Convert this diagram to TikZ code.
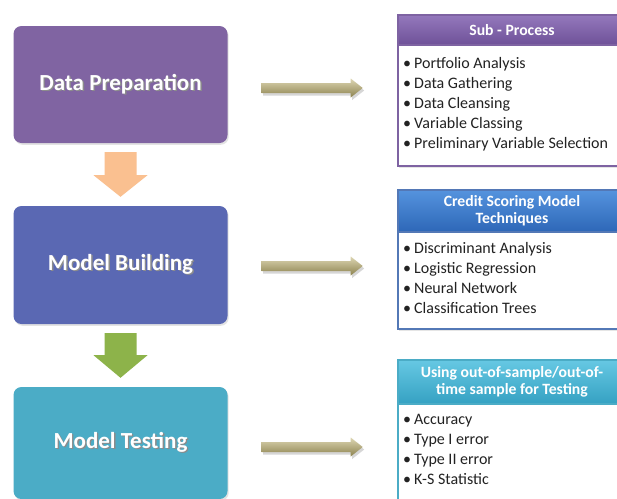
\documentclass[tikz,border=0pt]{standalone}
\usepackage{fontspec}
\setmainfont{Carlito}
\usetikzlibrary{calc,shadows}

% stage colours
\definecolor{prepC}{HTML}{8064A2}
\definecolor{buildC}{HTML}{5A68B3}
\definecolor{testC}{HTML}{4BACC6}
\definecolor{orangeC}{HTML}{FAC090}
\definecolor{greenC}{HTML}{8DB34A}
% side panel colours
\definecolor{subTop}{HTML}{9478BC}
\definecolor{subBot}{HTML}{6E5198}
\definecolor{subLine}{HTML}{7E63A2}
\definecolor{csmTop}{HTML}{5593DE}
\definecolor{csmBot}{HTML}{2D67B7}
\definecolor{csmLine}{HTML}{5378B6}
\definecolor{tstTop}{HTML}{66C8E3}
\definecolor{tstBot}{HTML}{35A1C2}
\definecolor{tstLine}{HTML}{4BACC6}
% flat arrow colours
\definecolor{khakiLight}{HTML}{DDD6B3}
\definecolor{khakiMid}{HTML}{C2B783}
\definecolor{khakiDark}{HTML}{8C824E}
\definecolor{listText}{HTML}{222222}

% white title with a soft dark shadow
\newcommand\shtext[1]{\rlap{\hspace{1.4pt}\raisebox{-1.4pt}{\color{black!45}#1}}#1}
% one bulleted line
\newcommand\bul[1]{\strut\textbullet\hspace{3pt}#1}

\tikzset{
  stage/.style={rounded corners=8pt, minimum width=214pt, inner sep=0pt,
    text=white, font=\fontsize{23}{27}\selectfont\bfseries,
    drop shadow={shadow xshift=1.2pt, shadow yshift=-1.8pt, opacity=0.22}},
  panel/.style={minimum width=228pt, inner sep=0pt, line width=1.4pt, fill=white,
    drop shadow={shadow xshift=1.2pt, shadow yshift=-1.8pt, opacity=0.2}},
  header/.style={minimum width=228pt, inner sep=0pt, line width=1.4pt,
    text=white, align=center, font=\fontsize{15.7}{17}\selectfont\bfseries},
  itemlist/.style={anchor=north west, inner sep=0pt, align=left,
    text=listText, font=\fontsize{16}{20}\selectfont},
  flatshadow/.style={fill=black, opacity=0.16},
  flatbody/.style={top color=khakiLight, middle color=khakiMid, bottom color=khakiDark},
}

% horizontal khaki arrow starting at a named coordinate
\newcommand\flatarrow[1]{%
  \fill[flatshadow] ($(#1)+(1.5,2.5)$) ++(0,-5) -- ++(89,0) -- ++(0,-4.5)
    -- ++(12,9.5) -- ++(-12,9.5) -- ++(0,-4.5) -- ++(-89,0) -- cycle;
  \shade[flatbody] (#1) ++(0,-5) -- ++(89,0) -- ++(0,-4.5)
    -- ++(12,9.5) -- ++(-12,9.5) -- ++(0,-4.5) -- ++(-89,0) -- cycle;
}

\begin{document}
\begin{tikzpicture}[x=1pt, y=-1pt]
  \clip (0,0) rectangle (617,498);
  \fill[white] (0,0) rectangle (617,498);

  % process stages
  \node[stage, fill=prepC, minimum height=117pt] (prep) at (120.5,84.5) {\shtext{Data Preparation}};
  \node[stage, fill=buildC, minimum height=118pt] (build) at (120.5,265) {\shtext{Model Building}};
  \node[stage, fill=testC, minimum height=112pt] (test) at (120.5,443) {\shtext{Model Testing}};

  % downward block arrows between stages
  \fill[orangeC] ($(prep.south)+(-16,9)$) -- ($(prep.south)+(16,9)$) -- ($(prep.south)+(16,32)$)
    -- ($(prep.south)+(27,32)$) -- ($(build.north)+(0,-9)$) -- ($(prep.south)+(-27,32)$)
    -- ($(prep.south)+(-16,32)$) -- cycle;
  \fill[greenC] ($(build.south)+(-16,9)$) -- ($(build.south)+(16,9)$) -- ($(build.south)+(16,31)$)
    -- ($(build.south)+(27,31)$) -- ($(test.north)+(0,-9)$) -- ($(build.south)+(-27,31)$)
    -- ($(build.south)+(-16,31)$) -- cycle;

  % side panels: frame first, coloured header on top
  \node[panel, draw=subLine, minimum height=151pt] (subB) at (512,90.5) {};
  \node[header, draw=subLine, top color=subTop, bottom color=subBot, minimum height=30pt]
    (subH) at (512,30) {Sub - Process};
  \node[itemlist] (subL) at (403,54) {\bul{Portfolio Analysis}\\ \bul{Data Gathering}\\
    \bul{Data Cleansing}\\ \bul{Variable Classing}\\ \bul{Preliminary Variable Selection}};

  \node[panel, draw=csmLine, minimum height=139pt] (csmB) at (512,259.5) {};
  \node[header, draw=csmLine, top color=csmTop, bottom color=csmBot, minimum height=42pt]
    (csmH) at (512,211) {Credit Scoring Model\\Techniques};
  \node[itemlist] (csmL) at (403,239) {\bul{Discriminant Analysis}\\ \bul{Logistic Regression}\\
    \bul{Neural Network}\\ \bul{Classification Trees}};

  \node[panel, draw=tstLine, minimum height=160pt] (tstB) at (512,440) {};
  \node[header, draw=tstLine, top color=tstTop, bottom color=tstBot, minimum height=44pt]
    (tstH) at (512,382) {Using out-of-sample/out-of-\\time sample for Testing};
  \node[itemlist] (tstL) at (403,410) {\bul{Accuracy}\\ \bul{Type I error}\\
    \bul{Type II error}\\ \bul{K-S Statistic}};

  % links from each stage to its panel
  \coordinate (l1) at ($(prep.east)+(34,3.5)$);
  \coordinate (l2) at ($(build.east)+(34,1)$);
  \coordinate (l3) at ($(test.east)+(34,4)$);
  \flatarrow{l1}
  \flatarrow{l2}
  \flatarrow{l3}
\end{tikzpicture}
\end{document}
